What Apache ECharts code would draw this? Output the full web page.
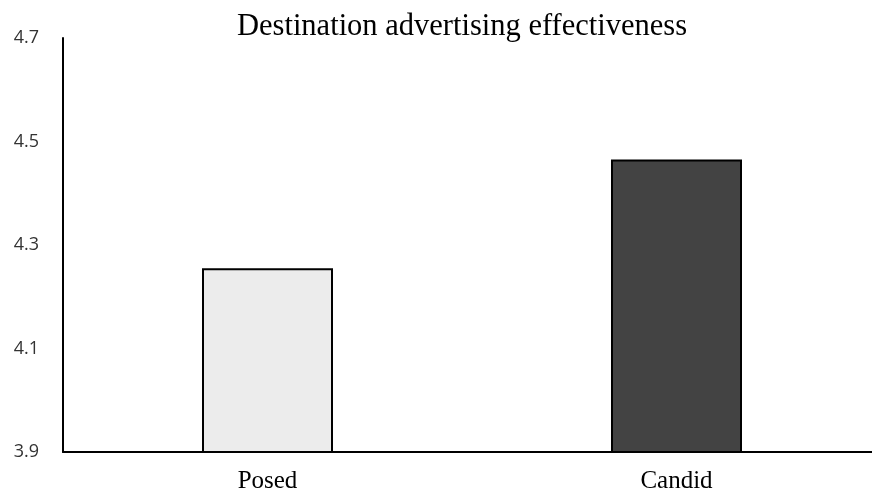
<!DOCTYPE html>
<html>
<head>
<meta charset="utf-8">
<script src="https://cdn.jsdelivr.net/npm/echarts@6/dist/echarts.min.js"></script>
<style>
  html, body { margin: 0; padding: 0; background: #fff; }
  #chart { width: 872px; height: 492px; }
</style>
</head>
<body>
<div id="chart"></div>
<script>
const categories = ['Posed', 'Candid']
const values = [4.255, 4.465]
const barColors = ['#ececec', '#434343']

const chart = echarts.init(document.getElementById('chart'))

const option = {
  animation: false,
  backgroundColor: '#fff',
  title: {
    text: 'Destination advertising effectiveness',
    left: 457,
    top: 6,
    textAlign: 'center',
    textStyle: {
      fontFamily: 'Liberation Serif',
      fontSize: 30.5,
      fontWeight: 'normal',
      color: '#000'
    }
  },
  grid: {
    left: 63,
    right: -9,
    top: 38,
    bottom: 40,
    outerBoundsMode: 'none'
  },
  xAxis: {
    type: 'category',
    data: categories,
    axisLine: { lineStyle: { color: '#000', width: 2 } },
    axisTick: { show: false },
    axisLabel: {
      fontFamily: 'Liberation Serif',
      fontSize: 25,
      color: '#000',
      margin: 17
    }
  },
  yAxis: {
    type: 'value',
    min: 3.9,
    max: 4.7,
    interval: 0.2,
    axisLine: { show: true, lineStyle: { color: '#000', width: 2 } },
    axisTick: { show: false },
    splitLine: { show: false },
    axisLabel: {
      fontFamily: 'Open Sans',
      fontSize: 18,
      color: '#333',
      margin: 24,
      formatter: v => v.toFixed(1)
    }
  },
  series: [{
    type: 'bar',
    barWidth: 131,
    data: values.map((v, i) => ({
      value: v,
      itemStyle: { color: barColors[i] }
    })),
    itemStyle: {
      borderColor: '#000',
      borderWidth: 2
    }
  }]
}

chart.setOption(option)
</script>
</body>
</html>
